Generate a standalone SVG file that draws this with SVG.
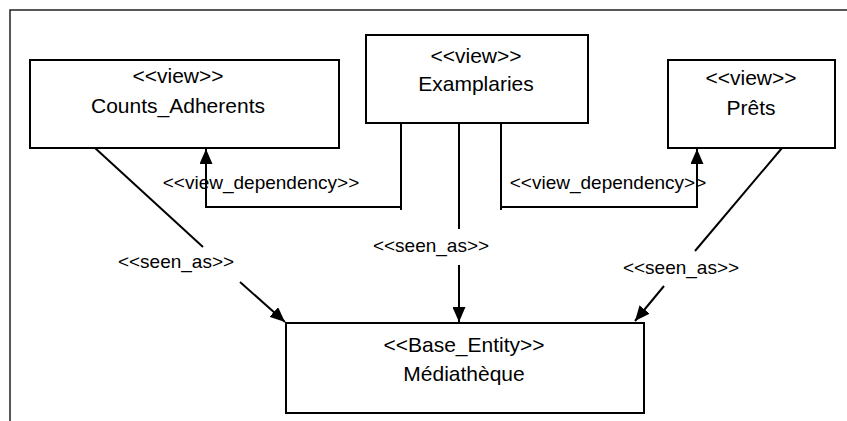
<svg xmlns="http://www.w3.org/2000/svg" width="847" height="421" viewBox="0 0 847 421">
<style>
.box{fill:#fff;stroke:#000;stroke-width:2}
.t{font-family:"Liberation Sans",Arial,sans-serif;font-size:21px;text-anchor:middle;fill:#000}
.l{font-family:"Liberation Sans",Arial,sans-serif;font-size:19px;text-anchor:middle;fill:#000}
.c{fill:none;stroke:#000;stroke-width:2}
</style>
<defs>
<marker id="ah" markerUnits="userSpaceOnUse" markerWidth="15" markerHeight="13" refX="15" refY="6.5" orient="auto">
<path d="M0,0 L15,6.5 L0,13 z" fill="#000"/>
</marker>
</defs>
<rect x="10" y="10" width="850" height="420" fill="#fff" stroke="#222" stroke-width="1.5"/>
<g id="connectors">
<line class="c" x1="95" y1="148" x2="203" y2="247"/>
<line class="c" x1="240" y1="282" x2="285" y2="322" marker-end="url(#ah)"/>
<line class="c" x1="459" y1="123" x2="459" y2="229"/>
<line class="c" x1="459" y1="265" x2="459" y2="322" marker-end="url(#ah)"/>
<line class="c" x1="782" y1="148" x2="695" y2="251"/>
<line class="c" x1="664" y1="286" x2="635" y2="321" marker-end="url(#ah)"/>
<polyline class="c" points="401,123 401,210"/>
<polyline class="c" points="401,207 206,207 206,149" marker-end="url(#ah)"/>
<polyline class="c" points="501,123 501,210"/>
<polyline class="c" points="501,207 697,207 697,149" marker-end="url(#ah)"/>
<text class="l" x="176" y="268">&lt;&lt;seen_as&gt;&gt;</text>
<text class="l" x="431" y="252">&lt;&lt;seen_as&gt;&gt;</text>
<text class="l" x="681" y="274">&lt;&lt;seen_as&gt;&gt;</text>
<text class="l" x="261" y="189">&lt;&lt;view_dependency&gt;&gt;</text>
<text class="l" x="608" y="189">&lt;&lt;view_dependency&gt;&gt;</text>
</g>
<g id="counts_adherents">
<rect class="box" x="30" y="60" width="309" height="88"/>
<text class="t" x="178" y="83">&lt;&lt;view&gt;&gt;</text>
<text class="t" x="178" y="113">Counts_Adherents</text>
</g>
<g id="examplaries">
<rect class="box" x="366" y="35" width="222" height="88"/>
<text class="t" x="476" y="63">&lt;&lt;view&gt;&gt;</text>
<text class="t" x="476" y="91">Examplaries</text>
</g>
<g id="prets">
<rect class="box" x="668" y="60" width="167" height="88"/>
<text class="t" x="751" y="85">&lt;&lt;view&gt;&gt;</text>
<text class="t" x="751" y="115">Prêts</text>
</g>
<g id="mediatheque">
<rect class="box" x="286" y="323" width="358" height="90"/>
<text class="t" x="464" y="352">&lt;&lt;Base_Entity&gt;&gt;</text>
<text class="t" x="464" y="381">Médiathèque</text>
</g>
</svg>
